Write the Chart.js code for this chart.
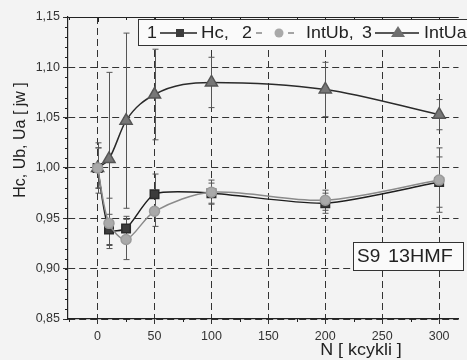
<!DOCTYPE html>
<html>
<head>
<meta charset="utf-8">
<script src="https://cdn.jsdelivr.net/npm/chart.js@4"></script>
<style>
  html, body { margin: 0; padding: 0; background: #f3f3f3; }
  canvas { display: block; }
</style>
</head>
<body>
<canvas id="cykle" width="467" height="360"></canvas>
<script>
// liczba cykli [kcykli]
const cycles = [0, 10, 25, 50, 100, 200, 300];

// wartosci wzgledne [jw]
const hc    = [1.000, 0.939, 0.940, 0.974, 0.975, 0.965, 0.986];
const intUb = [1.000, 0.945, 0.929, 0.957, 0.976, 0.968, 0.988];
const intUa = [1.000, 1.009, 1.047, 1.073, 1.085, 1.078, 1.053];

// rozrzut (+/-)
const hcErr    = [0.020, 0.015, 0.012, 0.020, 0.010, 0.010, 0.025];
const intUbErr = [0.020, 0.025, 0.020, 0.015, 0.012, 0.010, 0.032];
const intUaErr = [0.025, 0.086, 0.087, 0.045, 0.025, 0.027, 0.015];

const xTicks = [0, 50, 100, 150, 200, 250, 300];
const yTicks = [0.85, 0.90, 0.95, 1.00, 1.05, 1.10, 1.15];

const FONT = "'Liberation Sans', Arial, sans-serif";

function pts(values)
{
    return cycles.map((c, i) => ({ x: c, y: values[i] }));
}

function stretchText(ctx, text, x, y, size, sx)
{
    ctx.save();
    ctx.font = size + 'px ' + FONT;
    ctx.translate(x, y);
    ctx.scale(sx, 1);
    ctx.fillText(text, 0, 0);
    ctx.restore();
}

const decor = {
    id: 'decor',
    beforeDraw(chart) {
        const ctx = chart.ctx;
        ctx.save();
        ctx.fillStyle = '#f3f3f3';
        ctx.fillRect(0, 0, chart.width, chart.height);
        ctx.restore();
    },
    beforeDatasetsDraw(chart) {
        // slupki rozrzutu
        const ctx = chart.ctx;
        const ys = chart.scales.y;
        ctx.save();
        ctx.strokeStyle = '#555';
        ctx.lineWidth = 1;
        chart.data.datasets.forEach((ds, i) => {
            const meta = chart.getDatasetMeta(i);
            ds.errors.forEach((e, j) => {
                if (!e) return;
                const x = Math.round(meta.data[j].x) + 0.5;
                const t = ys.getPixelForValue(ds.data[j].y + e);
                const b = ys.getPixelForValue(ds.data[j].y - e);
                ctx.beginPath();
                ctx.moveTo(x, t); ctx.lineTo(x, b);
                ctx.moveTo(x - 3, t); ctx.lineTo(x + 3, t);
                ctx.moveTo(x - 3, b); ctx.lineTo(x + 3, b);
                ctx.stroke();
            });
        });
        ctx.restore();
    },
    afterDraw(chart) {
        const ctx = chart.ctx;
        const a = chart.chartArea;
        const xs = chart.scales.x;
        const ys = chart.scales.y;
        ctx.save();

        // gorna krawedz ramki
        ctx.strokeStyle = '#222';
        ctx.lineWidth = 1.2;
        ctx.beginPath();
        ctx.moveTo(a.left, a.top + 0.5);
        ctx.lineTo(a.right, a.top + 0.5);
        ctx.stroke();

        // drobne podzialki
        ctx.lineWidth = 1;
        ctx.beginPath();
        for (let v = 0.85; v <= 1.1501; v += 0.01) {
            const y = Math.round(ys.getPixelForValue(v)) + 0.5;
            ctx.moveTo(a.left - 3, y); ctx.lineTo(a.left, y);
        }
        for (let v = -25; v <= 315; v += 25) {
            const x = Math.round(xs.getPixelForValue(v)) + 0.5;
            const major = v % 50 === 0;
            if (!major) { ctx.moveTo(x, a.bottom); ctx.lineTo(x, a.bottom + 3); }
            ctx.moveTo(x, a.top); ctx.lineTo(x, a.top + (major ? 5 : 3));
        }
        ctx.stroke();

        ctx.textBaseline = 'middle';

        // legenda
        ctx.fillStyle = '#fafafa';
        ctx.fillRect(138, 19, 340, 26);
        ctx.strokeStyle = '#333';
        ctx.strokeRect(138.5, 19.5, 340, 26);
        ctx.fillStyle = '#222';
        const ly = 33;
        stretchText(ctx, '1', 147, ly, 17, 1.05);
        ctx.strokeStyle = '#222';
        ctx.lineWidth = 1.5;
        ctx.beginPath(); ctx.moveTo(160, ly); ctx.lineTo(197, ly); ctx.stroke();
        ctx.fillStyle = '#3c3c3c';
        ctx.fillRect(176, ly - 4, 8, 8);
        ctx.fillStyle = '#222';
        stretchText(ctx, 'Hc,', 201, ly, 17, 1.1);
        stretchText(ctx, '2', 242, ly, 17, 1.05);
        ctx.strokeStyle = '#888';
        ctx.beginPath();
        ctx.moveTo(256, ly); ctx.lineTo(262, ly);
        ctx.moveTo(288, ly); ctx.lineTo(294, ly);
        ctx.stroke();
        ctx.fillStyle = '#a9a9a9';
        ctx.beginPath(); ctx.arc(279, ly, 4.5, 0, Math.PI * 2); ctx.fill();
        ctx.fillStyle = '#222';
        stretchText(ctx, 'IntUb,', 306, ly, 17, 1.05);
        stretchText(ctx, '3', 362, ly, 17, 1.05);
        ctx.strokeStyle = '#222';
        ctx.beginPath(); ctx.moveTo(375, ly); ctx.lineTo(419, ly); ctx.stroke();
        ctx.fillStyle = '#6f6f6f';
        ctx.beginPath();
        ctx.moveTo(398, ly - 7); ctx.lineTo(405, ly + 4); ctx.lineTo(391, ly + 4);
        ctx.closePath(); ctx.fill();
        ctx.fillStyle = '#222';
        stretchText(ctx, 'IntUa', 424, ly, 17, 1.05);

        // oznaczenie probki
        ctx.fillStyle = '#fafafa';
        ctx.fillRect(353, 242, 110, 28);
        ctx.strokeStyle = '#333';
        ctx.lineWidth = 1;
        ctx.strokeRect(353.5, 242.5, 110, 28);
        ctx.fillStyle = '#222';
        stretchText(ctx, 'S9', 357, 257, 19, 1);
        stretchText(ctx, '13HMF', 388, 257, 19, 1.04);

        // opisy osi
        ctx.textAlign = 'center';
        stretchText(ctx, 'N [ kcykli ]', 361, 351, 16, 1.12);
        ctx.save();
        ctx.translate(21, 140);
        ctx.rotate(-Math.PI / 2);
        ctx.font = '16px ' + FONT;
        ctx.fillText('Hc, Ub, Ua [ jw ]', 0, 0);
        ctx.restore();

        ctx.restore();
    }
};

new Chart(document.getElementById('cykle'), {
    type: 'line',
    data: {
        datasets: [
            {
                label: 'IntUb',
                data: pts(intUb),
                errors: intUbErr,
                borderColor: '#8a8a8a',
                borderWidth: 1.5,
                backgroundColor: '#a9a9a9',
                pointBackgroundColor: '#a9a9a9',
                pointBorderColor: '#9a9a9a',
                pointStyle: 'circle',
                pointRadius: 5,
                tension: 0.3,
                order: 0
            },
            {
                label: 'Hc',
                data: pts(hc),
                errors: hcErr,
                borderColor: '#1e1e1e',
                borderWidth: 1.5,
                backgroundColor: '#3c3c3c',
                pointBackgroundColor: '#3c3c3c',
                pointBorderColor: '#2a2a2a',
                pointStyle: 'rect',
                pointRadius: 6,
                tension: 0.22,
                order: 1
            },
            {
                label: 'IntUa',
                data: pts(intUa),
                errors: intUaErr,
                borderColor: '#2a2a2a',
                borderWidth: 1.5,
                backgroundColor: '#777',
                pointBackgroundColor: '#777',
                pointBorderColor: '#555',
                pointStyle: 'triangle',
                pointRadius: 7,
                cubicInterpolationMode: 'monotone',
                order: 2
            }
        ]
    },
    options: {
        responsive: false,
        animation: false,
        layout: { padding: { top: 17, right: 0, left: 0, bottom: 0 } },
        plugins: {
            legend: { display: false },
            tooltip: { enabled: false }
        },
        scales: {
            x: {
                type: 'linear',
                min: -26,
                max: 317,
                afterBuildTicks: (s) => { s.ticks = xTicks.map(v => ({ value: v })); },
                afterFit: (s) => { s.height = 41; },
                grid: { color: '#333', lineWidth: 1, tickLength: 5 },
                border: { color: '#222', width: 1.2, dash: [7, 4] },
                ticks: {
                    color: '#333',
                    padding: 5,
                    font: { family: FONT, size: 12.5 },
                    maxRotation: 0
                }
            },
            y: {
                min: 0.85,
                max: 1.15,
                afterBuildTicks: (s) => { s.ticks = yTicks.map(v => ({ value: v })); },
                afterFit: (s) => { s.width = 68; },
                grid: { color: '#333', lineWidth: 1, tickLength: 5 },
                border: { color: '#222', width: 1.2, dash: [7, 4] },
                ticks: {
                    color: '#333',
                    padding: 3,
                    font: { family: FONT, size: 12.5 },
                    callback: (v) => v.toFixed(2).replace('.', ',')
                }
            }
        }
    },
    plugins: [decor]
});
</script>
</body>
</html>
